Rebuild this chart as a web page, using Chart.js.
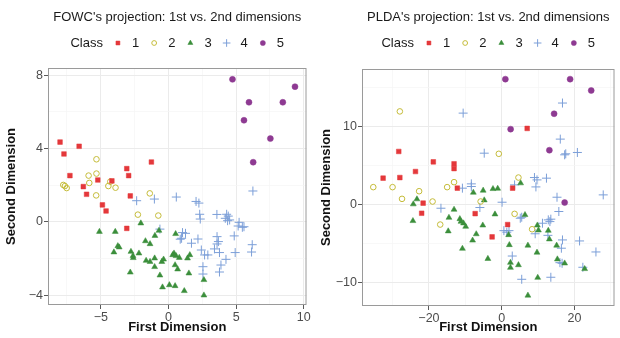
<!DOCTYPE html>
<html>
<head>
<meta charset="utf-8">
<script src="https://cdn.jsdelivr.net/npm/chart.js@4.4.1/dist/chart.umd.min.js"></script>
<style>
  html, body { margin: 0; padding: 0; background: #ffffff; }
  #wrap { position: relative; width: 620px; height: 338px; overflow: hidden; }
  canvas { position: absolute; top: 0; }
  #fowc { left: 0; }
  #plda { left: 310px; }
</style>
</head>
<body>
<div id="wrap">
  <canvas id="fowc" width="312" height="338"></canvas>
  <canvas id="plda" width="310" height="338"></canvas>
</div>
<script>
// ---- data -------------------------------------------------------------
const classLabels = ['1', '2', '3', '4', '5'];

// FOWC projection: [first dimension, second dimension] per sample
const fowc1 = [[-8.01,4.36],[-6.6,4.13],[-7.72,3.71],[-7.28,2.53],[-5.22,2.29],[-4.18,2.24],[-6.29,1.93],
  [-6.05,1.51],[-3.08,2.91],[-2.94,2.53],[-1.26,3.27],[-2.82,1.42],[-4.88,0.93],[-4.61,0.6],[-3.08,-0.35]];
const fowc2 = [[-5.32,3.42],[-5.9,2.53],[-5.32,2.64],[-5.85,2.13],[-7.77,2.02],[-7.65,1.96],[-7.52,1.85],
  [-4.44,1.96],[-4.3,2.2],[-3.91,1.87],[-5.34,1.45],[-1.38,1.56],[-2.26,0.4],[-0.75,0.35]];
const fowc3 = [[-5.1,-0.53],[-3.93,-0.53],[-2.04,-0.07],[-0.7,-0.47],[-1.0,-0.75],[-1.7,-1.04],[-1.36,-1.2],
  [-3.74,-1.31],[-3.64,-1.38],[-4.03,-1.65],[-2.77,-1.62],[-2.18,-1.71],[-2.62,-1.85],[-2.6,-1.96],
  [-1.65,-2.11],[-1.36,-2.17],[-1.02,-1.98],[-1.02,-2.45],[-0.36,-2.04],[-0.49,-2.17],[-2.82,-2.75],
  [-0.63,-2.91],[-0.44,-3.56],[0.07,-3.44],[0.49,-3.49],[0.53,-0.65],[0.41,-1.71],[0.56,-1.85],[0.8,-1.95],
  [0.31,-1.8],[1.58,-1.8],[1.41,-1.98],[0.49,-2.35],[0.68,-2.58],[1.51,-2.8],[1.17,-3.76],[2.62,-3.16],[2.62,-4.0]];
const fowc4 = [[-2.35,1.16],[-1.04,1.25],[0.58,1.36],[2.04,1.12],[2.25,1.03],[2.31,0.42],[2.35,0.16],
  [3.58,0.41],[4.3,0.42],[4.42,0.32],[4.2,0.2],[4.37,0.07],[4.52,0.11],[6.24,1.69],[5.22,-0.02],
  [5.15,-0.22],[5.46,-0.29],[5.58,-0.26],[4.86,-0.76],[6.19,-1.24],[6.14,-1.64],[3.59,-0.8],[3.69,-1.07],
  [3.59,-1.2],[1.04,-0.58],[1.26,-0.62],[0.87,-0.94],[0.97,-0.89],[2.18,-0.93],[1.7,-1.16],[2.43,-1.53],
  [2.67,-1.8],[2.91,-1.8],[3.4,-1.47],[3.77,-1.67],[4.93,-1.67],[4.25,-2.04],[3.88,-2.35],[2.55,-2.44],
  [2.55,-2.84],[3.77,-2.73],[-0.63,-0.39]];
const fowc5 = [[4.73,7.78],[9.35,7.38],[5.95,6.53],[8.45,6.53],[5.58,5.55],[7.53,4.55],[6.26,3.26]];

// PLDA projection: [first dimension, second dimension] per sample
const plda1 = [[-28.3,6.84],[-32.6,3.42],[-28.0,3.5],[-23.7,4.27],[-18.8,5.51],[-13.1,5.26],[-13.1,4.65],
  [-12.2,2.14],[-21.6,0.22],[-22.0,-1.07],[-7.3,-1.12],[3.0,2.14],[1.63,-2.52],[-2.64,-4.1],[7.0,9.79]];
const plda2 = [[-28.0,11.97],[-35.3,2.27],[-30.0,2.27],[-22.7,1.75],[-27.4,0.77],[-19.0,0.43],[-16.9,-2.52],
  [-15.0,2.27],[-13.1,2.91],[-5.8,0.43],[-0.8,6.54],[4.6,3.5],[3.54,-1.15],[8.35,-3.12]];
const plda3 = [[-24.3,0.09],[-23.3,0.73],[-24.4,-2.05],[-7.8,1.58],[-5.1,1.84],[-2.4,2.05],[-1.1,2.09],
  [-4.8,0.6],[-13.1,-0.6],[-14.5,-1.63],[-11.5,-1.8],[-11.2,-2.14],[-10.5,-2.35],[-9.9,-2.78],[-14.7,-3.37],
  [-7.0,-3.74],[-5.2,-2.62],[-1.85,-1.2],[-8.0,-4.55],[-10.8,-5.6],[-3.8,-6.9],[1.9,-3.85],[2.1,-5.13],
  [2.4,-7.4],[2.4,-8.04],[4.6,-7.7],[5.2,2.78],[6.4,-1.28],[7.2,-5.2],[9.8,-2.62],[10.1,-3.25],[12.8,-3.29],
  [13.1,-4.4],[9.7,-6.1],[9.9,-9.32],[7.2,-11.6],[15.1,-5.2],[15.3,-6.96],[17.3,-7.48],[22.8,-8.2]];
const plda4 = [[-10.6,11.75],[16.7,13.04],[16.1,8.42],[17.3,6.41],[17.6,6.54],[20.8,6.71],[-4.8,6.62],
  [-10.8,2.14],[-8.35,2.69],[-8.35,2.35],[-16.7,-0.43],[-6.0,-0.34],[0.1,0.34],[3.54,2.56],[9.0,3.5],
  [9.7,3.2],[12.3,3.42],[9.4,2.3],[15.2,0.98],[27.9,1.28],[15.7,-0.85],[5.1,-1.71],[5.5,-1.58],[11.2,-2.35],
  [12.8,-1.92],[13.5,-1.83],[13.25,-2.14],[9.2,-3.7],[12.7,-3.9],[0.6,-3.3],[1.4,-3.5],[2.0,-3.3],[2.9,-6.55],
  [16.7,-4.49],[16.4,-5.55],[21.4,-4.62],[25.9,-6.03],[16.0,-7.4],[16.6,-7.48],[22.3,-7.99],[5.5,-9.53],[13.5,-9.27]];
const plda5 = [[1.0,16.1],[18.8,16.1],[24.6,14.65],[14.4,11.67],[2.45,9.7],[13.1,7.0],[17.3,0.3]];

// axis ticks and limits
const fowcXTicks = [-5, 0, 5, 10];
const fowcYTicks = [-4, 0, 4, 8];
const pldaXTicks = [-20, 0, 20];
const pldaYTicks = [-10, 0, 10];
const fowcXLimits = [-8.9, 10.2];
const fowcYLimits = [-4.53, 8.4];
const pldaXLimits = [-38.4, 31.0];
const pldaYLimits = [-12.95, 17.4];

// ---- styling ------------------------------------------------------------
const FONT = "'Liberation Sans', Arial, Helvetica, sans-serif";
const classStyles = [
  { pointStyle: 'rect',     radius: 3.3, fill: '#E4383B', stroke: '#E4383B', width: 0.5 },
  { pointStyle: 'circle',   radius: 2.8, fill: 'rgba(0,0,0,0)', stroke: '#C4BB38', width: 1 },
  { pointStyle: 'triangle', radius: 3.4, fill: '#3B8E3B', stroke: '#3B8E3B', width: 0.5 },
  { pointStyle: 'cross',    radius: 4.5, fill: '#7C9FD8', stroke: '#7C9FD8', width: 1 },
  { pointStyle: 'circle',   radius: 3.0, fill: '#8E3A92', stroke: '#8E3A92', width: 0.5 }
];

const fmt = v => (v < 0 ? '\u2212' + Math.abs(v) : String(v));
const isIn = (list, v) => list.some(t => Math.abs(t - v) < 1e-9);

// majors plus half-step minors that fall inside the limits
function gridValues(major, limits) {
  const half = (major[1] - major[0]) / 2;
  const k0 = Math.ceil((limits[0] - major[0]) / half);
  const k1 = Math.floor((limits[1] - major[0]) / half);
  const out = [];
  for (let k = k0; k <= k1; k++) out.push(Math.round((major[0] + k * half) * 1e6) / 1e6);
  return out;
}

// title, legend row and panel frame
const panelDecor = {
  id: 'panelDecor',
  afterDraw(chart) {
    const o = chart.options.plugins.panelDecor;
    const ctx = chart.ctx;
    const ca = chart.chartArea;
    const cx = (ca.left + ca.right) / 2;
    ctx.save();
    ctx.strokeStyle = '#9A9A9A';
    ctx.lineWidth = 1;
    ctx.strokeRect(ca.left + 0.5, ca.top + 0.5, ca.right - ca.left - 1, ca.bottom - ca.top - 1);

    ctx.fillStyle = '#1A1A1A';
    ctx.font = '13px ' + FONT;
    ctx.textAlign = 'center';
    ctx.textBaseline = 'middle';
    ctx.fillText(o.title, cx, o.titleY);

    // legend: "Class" followed by symbol / label pairs
    ctx.font = '13px ' + FONT;
    const head = 'Class';
    const gapHead = 15, symToText = 14, textToSym = 15;
    const wHead = ctx.measureText(head).width;
    let total = wHead;
    chart.data.datasets.forEach(ds => { total += textToSym + symToText + ctx.measureText(ds.label).width; });
    total += gapHead - textToSym;
    let x = cx - total / 2;
    const y = o.legendY;
    ctx.textAlign = 'left';
    ctx.fillStyle = '#1A1A1A';
    ctx.fillText(head, x, y);
    x += wHead + gapHead;
    chart.data.datasets.forEach((ds, i) => {
      const s = classStyles[i];
      ctx.fillStyle = s.fill;
      ctx.strokeStyle = s.stroke;
      ctx.lineWidth = s.width;
      Chart.helpers.drawPoint(ctx, { pointStyle: s.pointStyle, radius: s.radius * 0.85, rotation: 0, borderWidth: s.width }, x, y);
      ctx.fillStyle = '#1A1A1A';
      ctx.fillText(ds.label, x + symToText, y);
      x += symToText + ctx.measureText(ds.label).width + textToSym;
    });
    ctx.restore();
  }
};

function axis(ticksList, limits, titleText, horizontal, size) {
  return {
    type: 'linear',
    min: limits[0],
    max: limits[1],
    afterBuildTicks: ax => { ax.ticks = gridValues(ticksList, limits).map(v => ({ value: v })); },
    afterFit: ax => { if (horizontal) ax.height = size; else ax.width = size; },
    ticks: {
      autoSkip: false,
      maxRotation: 0,
      padding: 1,
      color: '#4D4D4D',
      font: { family: FONT, size: 12.5 },
      callback: v => (isIn(ticksList, v) ? fmt(v) : '')
    },
    grid: {
      drawTicks: true,
      tickLength: 4,
      color: c => (isIn(ticksList, c.tick.value) ? '#EBEBEB' : '#F5F5F5'),
      lineWidth: c => (isIn(ticksList, c.tick.value) ? 1 : 0.7),
      tickColor: c => (isIn(ticksList, c.tick.value) ? '#5A5A5A' : 'rgba(0,0,0,0)')
    },
    border: { display: false },
    title: {
      display: true,
      text: titleText,
      color: '#111111',
      font: { family: FONT, size: 13, weight: 'bold' },
      padding: { top: 4, bottom: 3 }
    }
  };
}

function makeChart(id, title, groups, xt, yt, xl, yl, g) {
  const datasets = groups.map((pts, i) => {
    const s = classStyles[i];
    return {
      label: classLabels[i],
      data: pts.map(p => ({ x: p[0], y: p[1] })),
      pointStyle: s.pointStyle,
      pointRadius: s.radius,
      pointBackgroundColor: s.fill,
      pointBorderColor: s.stroke,
      pointBorderWidth: s.width,
      showLine: false
    };
  });
  return new Chart(document.getElementById(id), {
    type: 'scatter',
    data: { datasets },
    options: {
      responsive: false,
      devicePixelRatio: 1,
      animation: false,
      events: [],
      layout: { padding: { left: g.left, right: g.right, top: g.top, bottom: 0 } },
      scales: {
        x: axis(xt, xl, 'First Dimension', true, g.xHeight),
        y: axis(yt, yl, 'Second Dimension', false, g.yWidth)
      },
      plugins: {
        legend: { display: false },
        tooltip: { enabled: false },
        title: { display: false },
        panelDecor: { title, titleY: 17, legendY: 43 }
      }
    },
    plugins: [panelDecor]
  });
}

makeChart('fowc', "FOWC's projection: 1st vs. 2nd dimensions",
  [fowc1, fowc2, fowc3, fowc4, fowc5], fowcXTicks, fowcYTicks, fowcXLimits, fowcYLimits,
  { left: 0, right: 2, top: 68, xHeight: 33, yWidth: 48 });

makeChart('plda', "PLDA's projection: 1st vs. 2nd dimensions",
  [plda1, plda2, plda3, plda4, plda5], pldaXTicks, pldaYTicks, pldaXLimits, pldaYLimits,
  { left: 5, right: 3, top: 69, xHeight: 32, yWidth: 47 });
</script>
</body>
</html>
